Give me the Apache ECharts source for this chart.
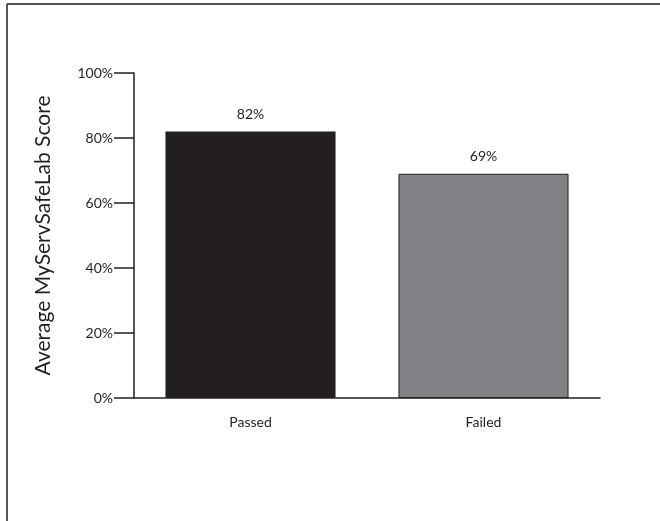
<!DOCTYPE html>
<html>
<head>
<meta charset="utf-8">
<script src="https://cdn.jsdelivr.net/npm/echarts@6/dist/echarts.min.js"></script>
<style>
html,body{margin:0;padding:0;background:#fff;}
#c{width:660px;height:521px;}
</style>
</head>
<body>
<div id="c"></div>
<script>
var categories = ['Passed', 'Failed'];
var scores = [82, 69];
var barColors = ['#231f20', '#808285'];
var yTicks = [0, 20, 40, 60, 80, 100];

var chart = echarts.init(document.getElementById('c'));
var font = 'Lato, "Open Sans", sans-serif';
chart.setOption({
  animation: false,
  backgroundColor: '#fff',
  graphic: [
    {type: 'line', shape: {x1: 7, y1: 4, x2: 660, y2: 4}, style: {stroke: '#555', lineWidth: 2}},
    {type: 'line', shape: {x1: 7, y1: 4, x2: 7, y2: 521}, style: {stroke: '#555', lineWidth: 2}}
  ],
  grid: {left: 134, right: 60, top: 73, bottom: 123},
  xAxis: {
    type: 'category',
    data: categories,
    axisLine: {lineStyle: {color: '#231f20', width: 1.5}},
    axisTick: {inside: true, length: 5, lineStyle: {color: '#231f20', width: 1.5}},
    axisLabel: {color: '#231f20', fontFamily: font, fontSize: 14, margin: 17}
  },
  yAxis: {
    type: 'value',
    min: yTicks[0],
    max: yTicks[yTicks.length - 1],
    interval: 20,
    name: 'Average MyServSafeLab Score',
    nameLocation: 'middle',
    nameGap: 80,
    nameTextStyle: {color: '#231f20', fontFamily: font, fontSize: 21},
    splitLine: {show: false},
    axisLine: {show: true, lineStyle: {color: '#231f20', width: 1.5}},
    axisTick: {show: true, length: 20, lineStyle: {color: '#231f20', width: 1.5}},
    axisLabel: {color: '#231f20', fontFamily: font, fontSize: 14, margin: 21, formatter: '{value}%'}
  },
  series: [{
    type: 'bar',
    barWidth: '73%',
    data: scores.map(function (v, i) {
      return {value: v, itemStyle: {color: barColors[i], borderColor: '#231f20', borderWidth: i === 1 ? 1 : 0}};
    }),
    label: {show: true, position: 'top', distance: 10, formatter: '{c}%', color: '#231f20', fontFamily: font, fontSize: 14}
  }]
});
</script>
</body>
</html>
